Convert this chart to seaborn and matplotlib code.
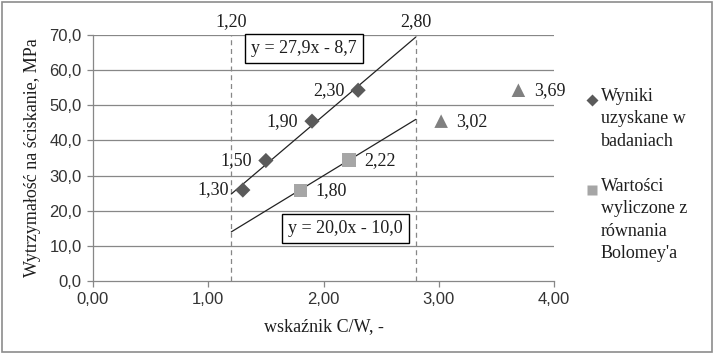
import matplotlib
matplotlib.use("Agg")
import matplotlib.pyplot as plt
import seaborn as sns
import pandas as pd
import numpy as np
from matplotlib.patches import Rectangle

# ---- data ----
wyniki_x = [1.30, 1.50, 1.90, 2.30]
wyniki_y = [25.9, 34.3, 45.5, 54.3]
bolomey_x = [1.80, 2.22]
bolomey_y = [25.8, 34.4]
extra_x = [3.02, 3.69]
extra_y = [45.5, 54.3]
fit1 = (27.9, -8.7)
fit2 = (20.0, -10.0)
fit_range = [1.20, 2.80]
x_ticks = [0, 1, 2, 3, 4]
y_ticks = [0, 10, 20, 30, 40, 50, 60, 70]
legend_labels = ["Wyniki\nuzyskane w\nbadaniach",
                 "Wartości\nwyliczone z\nrównania\nBolomey'a"]

def fmt(v, d):
    return f"{v:.{d}f}".replace(".", ",")

sns.set_theme(style="white")
plt.rcParams['font.family'] = ['Liberation Serif', 'DejaVu Serif']

FS = 13
TXT = "#1e1e1e"
fig = plt.figure(figsize=(7.15, 3.54), dpi=100)
ax = fig.add_axes([0.130, 0.206, 0.645, 0.695])

df1 = pd.DataFrame({"x": wyniki_x, "y": wyniki_y})
df2 = pd.DataFrame({"x": bolomey_x, "y": bolomey_y})
df3 = pd.DataFrame({"x": extra_x, "y": extra_y})

for yv in y_ticks[1:]:
    ax.axhline(yv, color="#878787", lw=0.9, zorder=0)

for xv in fit_range:
    ax.axvline(xv, color="#878787", lw=0.9, ls=(0, (4, 3)), zorder=1)
    ax.text(xv, 71.3, fmt(xv, 2), ha="center", va="bottom", fontsize=FS, color=TXT)

fx = np.array(fit_range)
for (a, b) in (fit1, fit2):
    sns.lineplot(x=fx, y=a * fx + b, ax=ax, color="#222222", lw=0.9, zorder=2)

c1, c2, c3 = "#5a5a5a", "#a6a6a6", "#808080"
sns.scatterplot(data=df1, x="x", y="y", ax=ax, marker="D", s=60, color=c1,
                edgecolor="none", zorder=3, legend=False)
sns.scatterplot(data=df2, x="x", y="y", ax=ax, marker="s", s=95, color=c2,
                edgecolor="none", zorder=3, legend=False)
sns.scatterplot(data=df3, x="x", y="y", ax=ax, marker="^", s=95, color=c3,
                edgecolor="none", zorder=3, legend=False)

for x, y in zip(wyniki_x, wyniki_y):
    ax.annotate(fmt(x, 2), (x, y), xytext=(-10, 0), textcoords="offset points",
                ha="right", va="center", fontsize=FS, color=TXT)
for x, y in zip(bolomey_x + extra_x, bolomey_y + extra_y):
    ax.annotate(fmt(x, 2), (x, y), xytext=(11, 0), textcoords="offset points",
                ha="left", va="center", fontsize=FS, color=TXT)

box = dict(boxstyle="square,pad=0.33", fc="white", ec="black", lw=1)
ax.text(1.83, 66.2, f"y = {fmt(fit1[0],1)}x - {fmt(-fit1[1],1)}", ha="center", va="center",
        fontsize=FS, bbox=box, color=TXT)
ax.text(2.19, 14.9, f"y = {fmt(fit2[0],1)}x - {fmt(-fit2[1],1)}", ha="center", va="center",
        fontsize=FS, bbox=box, color=TXT)

ax.set_xlim(0, 4)
ax.set_ylim(0, 70)
ax.set_xticks(x_ticks)
ax.set_yticks(y_ticks)
ax.set_xticklabels([fmt(v, 2) for v in x_ticks], family="Liberation Sans", fontsize=12, color="#333333")
ax.set_yticklabels([fmt(v, 1) for v in y_ticks], family="Liberation Sans", fontsize=12, color="#333333")
ax.tick_params(axis="both", length=4, width=0.9, color="#878787", direction="out", pad=4,
               bottom=True, left=True)
for s in ("top", "right"):
    ax.spines[s].set_visible(False)
for s in ("left", "bottom"):
    ax.spines[s].set_color("#878787")
    ax.spines[s].set_linewidth(0.9)

ax.set_xlabel("wskaźnik C/W, -", fontsize=FS, color=TXT, labelpad=8)
ax.set_ylabel("Wytrzymałość na ściskanie, MPa", fontsize=FS, color=TXT, labelpad=6)

# legend (drawn manually so marker sits beside the first line)
W, H = 715, 354
for (mk, col, ms), lab, ytop in zip([("D", c1, 6), ("s", c2, 7)], legend_labels, [100, 190]):
    fig.add_artist(plt.Line2D([592 / W], [1 - ytop / H], marker=mk, color=col, ms=ms,
                              mec="none", ls="none", transform=fig.transFigure))
    fig.text(601 / W, 1 - (ytop - 12) / H, lab, ha="left", va="top", fontsize=FS,
             color=TXT, linespacing=1.42)

fig.add_artist(Rectangle((0.003, 0.005), 0.993, 0.99, transform=fig.transFigure,
                         fill=False, ec="#8c8c8c", lw=1.2))

fig.savefig("out.png", dpi=100)
